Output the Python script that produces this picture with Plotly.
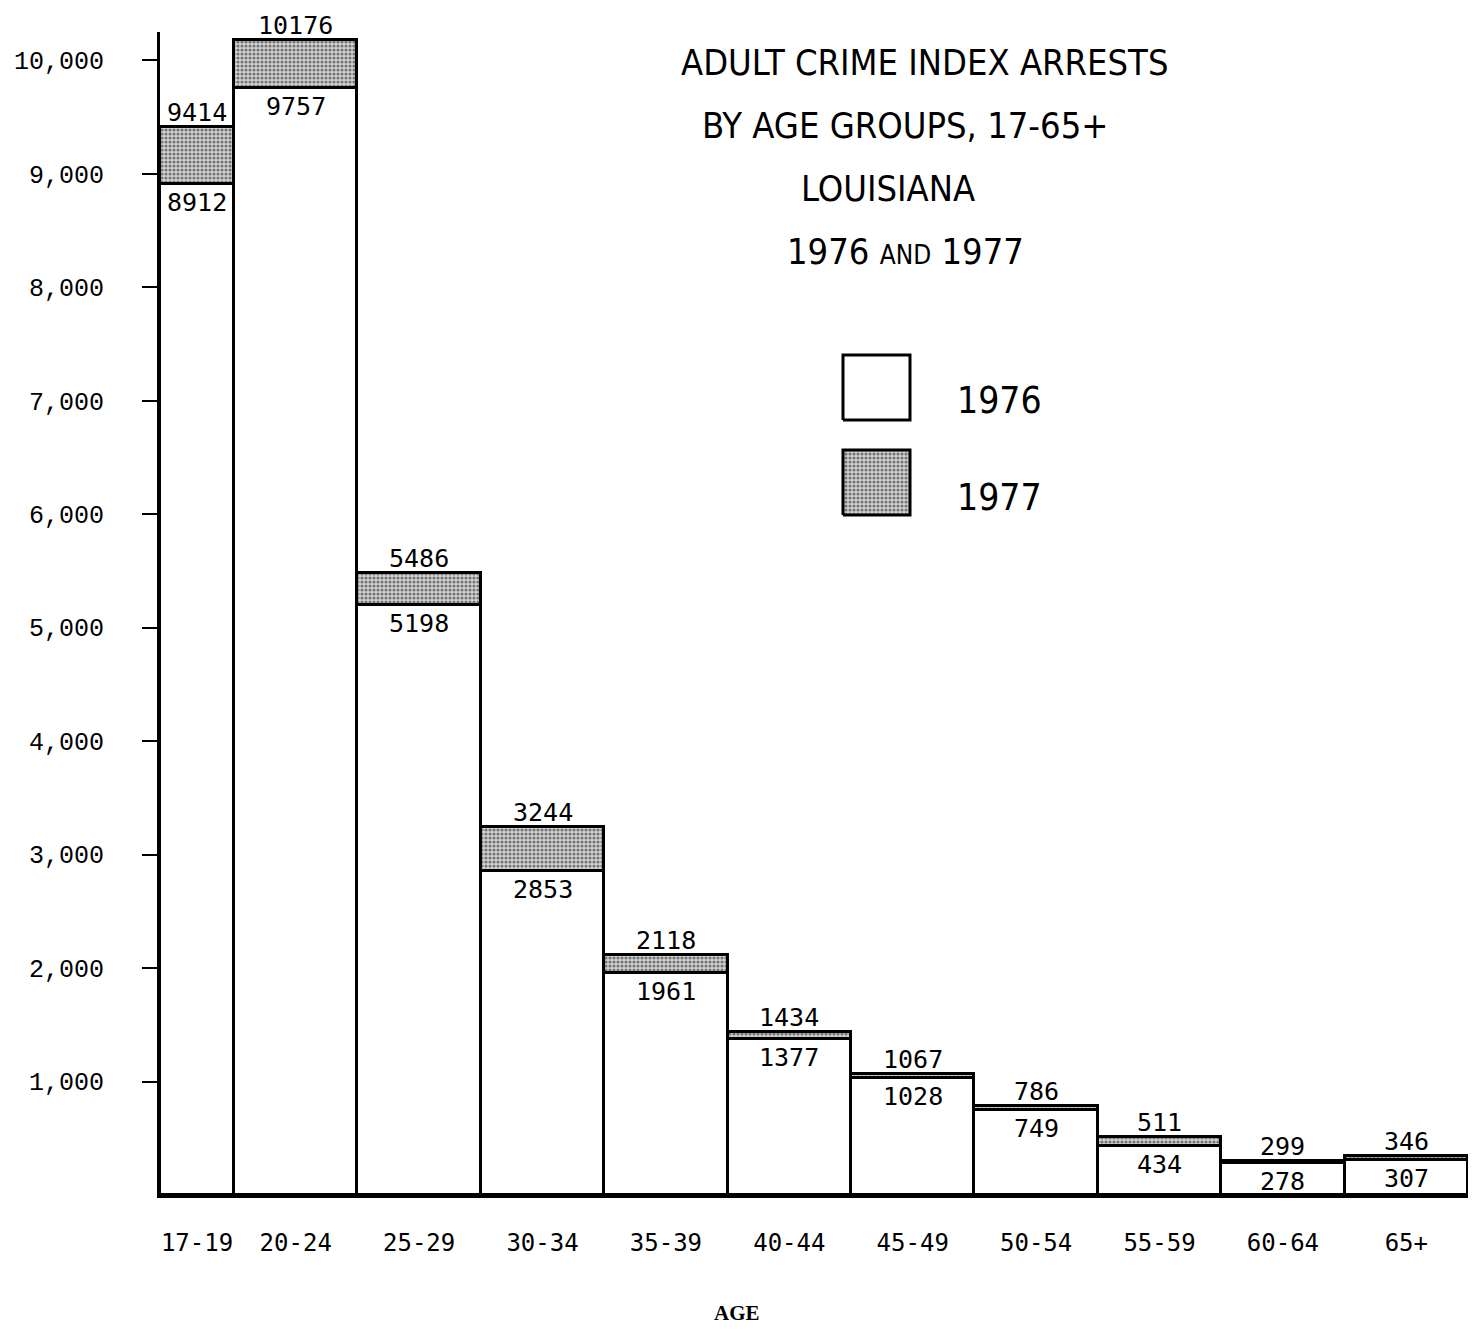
import plotly.graph_objects as go

# ---------------- data ----------------
age_groups = ["17-19", "20-24", "25-29", "30-34", "35-39", "40-44",
              "45-49", "50-54", "55-59", "60-64", "65+"]
age_start = [17, 20, 25, 30, 35, 40, 45, 50, 55, 60, 65]
age_span = [3, 5, 5, 5, 5, 5, 5, 5, 5, 5, 5]
arrests_1976 = [8912, 9757, 5198, 2853, 1961, 1377, 1028, 749, 434, 278, 307]
arrests_1977 = [9414, 10176, 5486, 3244, 2118, 1434, 1067, 786, 511, 299, 346]
y_tick_vals = [1000, 2000, 3000, 4000, 5000, 6000, 7000, 8000, 9000, 10000]
y_tick_text = ["1,000", "2,000", "3,000", "4,000", "5,000", "6,000",
               "7,000", "8,000", "9,000", "10,000"]
title_lines = ["ADULT CRIME INDEX ARRESTS", "BY AGE GROUPS, 17-65+", "LOUISIANA",
               "1976 <span style='font-size:26px'>AND</span> 1977"]
legend_labels = ["1976", "1977"]

centers = [s + w / 2 for s, w in zip(age_start, age_span)]
increase = [b - a for a, b in zip(arrests_1976, arrests_1977)]

# page has an 8px body margin; figure is sized/placed to compensate
OFF = 8
W, H = 1479 - OFF, 1331 - OFF
L, R, T = 160 - OFF, 11, 32 - OFF
B = H - (1195 - OFF)
PW, PH = W - L - R, H - T - B


def pxx(px):
    return (px - OFF - L) / PW


def pxy(py):
    return (H - B - (py - OFF)) / PH


MONO = "DejaVu Sans Mono, Liberation Mono, monospace"
TYPE = "Liberation Mono, Courier New, monospace"
COND = "Liberation Sans Narrow, DejaVu Sans Condensed, Arial Narrow, sans-serif"

hatch = dict(shape=".", fgcolor="#161616", bgcolor="#d4d4d4", size=4, solidity=0.5)

fig = go.Figure()
fig.add_trace(go.Bar(
    x=centers, y=arrests_1976, width=age_span, base=0,
    marker=dict(color="white", line=dict(color="black", width=3)),
    hoverinfo="skip", showlegend=False))
fig.add_trace(go.Bar(
    x=centers, y=increase, width=age_span, base=arrests_1976,
    marker=dict(color="#b0b0b0", pattern=hatch, line=dict(color="black", width=3)),
    hoverinfo="skip", showlegend=False))

annotations = []
for c, a, b in zip(centers, arrests_1976, arrests_1977):
    annotations.append(dict(x=c, y=b, xref="x", yref="y", text=str(b), showarrow=False,
                            yanchor="bottom", yshift=-2,
                            font=dict(family=MONO, size=25, color="black")))
    annotations.append(dict(x=c, y=a, xref="x", yref="y", text=str(a), showarrow=False,
                            yanchor="top", yshift=-2,
                            font=dict(family=MONO, size=25, color="black")))

# title
title_pos = [(924, 62), (905, 125), (888, 188), (905, 252)]
for txt, (px, py) in zip(title_lines, title_pos):
    annotations.append(dict(x=pxx(px), y=pxy(py), xref="paper", yref="paper", text=txt,
                            showarrow=False, xanchor="center", yanchor="middle",
                            font=dict(family=COND, size=36, color="black")))

# legend labels
for txt, py in zip(legend_labels, [400, 497]):
    annotations.append(dict(x=pxx(955), y=pxy(py), xref="paper", yref="paper", text=txt,
                            showarrow=False, xanchor="left", yanchor="middle",
                            font=dict(family=COND, size=37, color="black")))

# x axis title
annotations.append(dict(x=pxx(737), y=pxy(1313), xref="paper", yref="paper", text="<b>AGE</b>",
                        showarrow=False, xanchor="center", yanchor="middle",
                        font=dict(family="Liberation Serif, serif", size=21, color="black")))

# legend boxes on an overlay axis in paper-like units
for fill, (y0, y1) in zip(["white", "hatch"], [(355, 420), (450, 515)]):
    xs = [pxx(843), pxx(910), pxx(910), pxx(843), pxx(843)]
    ys = [pxy(y1), pxy(y1), pxy(y0), pxy(y0), pxy(y1)]
    kw = dict(fillcolor="white")
    if fill == "hatch":
        kw = dict(fillcolor="#b0b0b0", fillpattern=hatch)
    fig.add_trace(go.Scatter(x=xs, y=ys, xaxis="x2", yaxis="y2", mode="lines",
                             fill="toself", line=dict(color="black", width=3),
                             hoverinfo="skip", showlegend=False, **kw))

fig.update_layout(
    width=W, height=H,
    margin=dict(l=L, r=R, t=T, b=B, autoexpand=False),
    paper_bgcolor="white", plot_bgcolor="white",
    barmode="overlay", bargap=0,
    showlegend=False,
    annotations=annotations,
    xaxis=dict(range=[17, 70], tickmode="array", tickvals=centers, ticktext=age_groups,
               showgrid=False, zeroline=False, showline=True, linecolor="black", linewidth=3,
               ticks="", ticklabelstandoff=24, automargin=False,
               tickfont=dict(family=MONO, size=24, color="black")),
    yaxis=dict(range=[0, 10250], tickmode="array", tickvals=y_tick_vals, ticktext=y_tick_text,
               showgrid=False, zeroline=False, showline=True, linecolor="black", linewidth=3,
               ticks="outside", ticklen=15, tickwidth=2, tickcolor="black",
               ticklabelstandoff=33, automargin=False,
               tickfont=dict(family=TYPE, size=25, color="black")),
    xaxis2=dict(range=[0, 1], overlaying="x", visible=False, fixedrange=True),
    yaxis2=dict(range=[0, 1], overlaying="y", visible=False, fixedrange=True),
)

fig.write_html("out.html")
